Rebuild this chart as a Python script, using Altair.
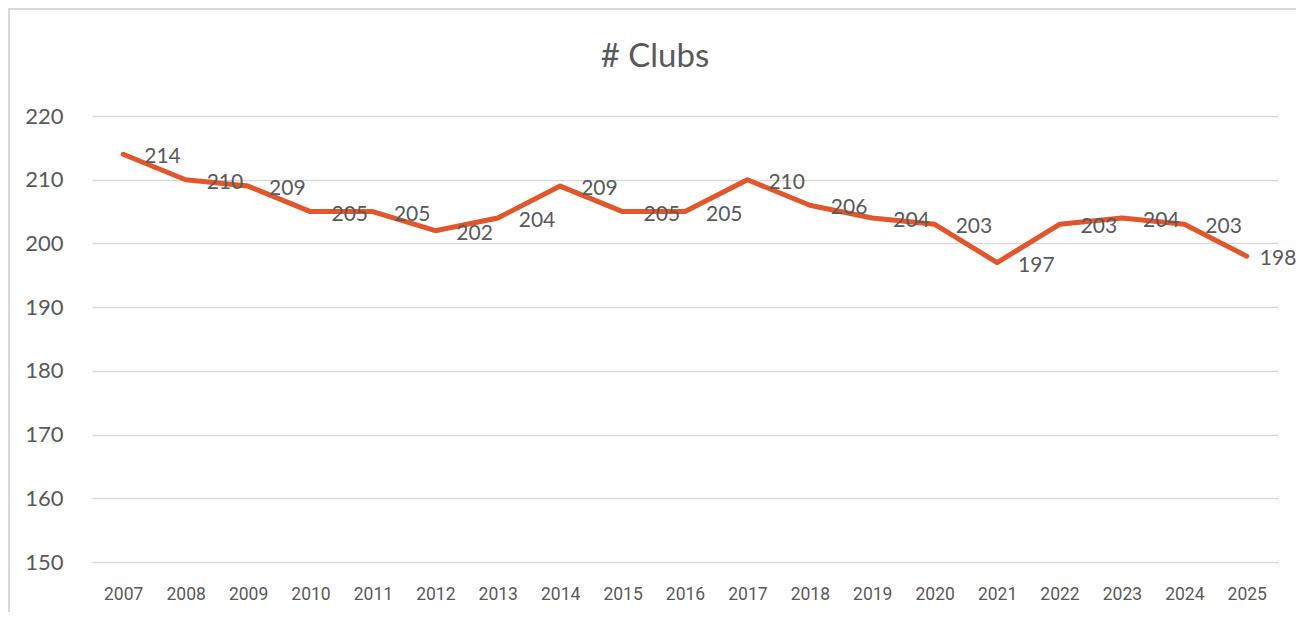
import altair as alt
import pandas as pd

title_text = ["# Clubs"]
years = [str(y) for y in range(2007, 2026)]
clubs = [214, 210, 209, 205, 205, 202, 204, 209, 205, 205, 210, 206, 204, 203, 197, 203, 204, 203, 198]
y_ticks = [150, 160, 170, 180, 190, 200, 210, 220]

df = pd.DataFrame({"year": years, "clubs": clubs})
tdf = pd.DataFrame({"t": title_text})

LINE = "#E2562B"
TXT = "#595959"
GRID = "#D9D9D9"

x = alt.X("year:N", sort=years,
          scale=alt.Scale(type="point", padding=0.5),
          axis=alt.Axis(title=None, labelAngle=0, domain=False, ticks=False, grid=False,
                        labelFont="Roboto", labelFontSize=17.5, labelColor=TXT, labelPadding=23))
y = alt.Y("clubs:Q",
          scale=alt.Scale(domain=[150, 220], nice=False, zero=False),
          axis=alt.Axis(title=None, values=y_ticks, domain=False, ticks=False, grid=True,
                        gridColor=GRID, gridWidth=1.5,
                        labelFont="Lato", labelFontSize=22, labelColor=TXT, labelPadding=29))

base = alt.Chart(df)
last_year = years[-1]

line = base.mark_line(color=LINE, strokeWidth=5, strokeCap="round", strokeJoin="round").encode(x=x, y=y)

labels = base.mark_text(align="left", baseline="middle", dx=21, dy=3,
                        font="Lato", fontSize=21, color=TXT).encode(
    x=alt.X("year:N", sort=years), y="clubs:Q", text="clubs:Q"
).transform_filter(alt.datum.year != last_year)

label_last = base.mark_text(align="left", baseline="middle", dx=13, dy=3,
                            font="Lato", fontSize=21, color=TXT).encode(
    x=alt.X("year:N", sort=years), y="clubs:Q", text="clubs:Q"
).transform_filter(alt.datum.year == last_year)

title = alt.Chart(tdf).mark_text(align="center", baseline="middle", font="Lato", fontSize=33,
                                 color=TXT, clip=False).encode(
    text="t:N", x=alt.value(563), y=alt.value(-59))

border_top = alt.Chart(tdf).mark_rule(color=GRID, strokeWidth=2, clip=False).encode(
    x=alt.value(-84), x2=alt.value(1215), y=alt.value(-107))
border_left = alt.Chart(tdf).mark_rule(color=GRID, strokeWidth=2, clip=False).encode(
    x=alt.value(-83), y=alt.value(-108), y2=alt.value(520))

chart = alt.layer(border_top, border_left, line, labels, label_last, title).properties(
    width=1186, height=446,
    background="white",
    autosize=alt.AutoSizeParams(type="none"),
    padding={"left": 84, "top": 108, "right": 18, "bottom": 50},
).configure_view(strokeWidth=0, stroke=None)

chart.save("out.html", embed_options={"renderer": "svg", "actions": False})
